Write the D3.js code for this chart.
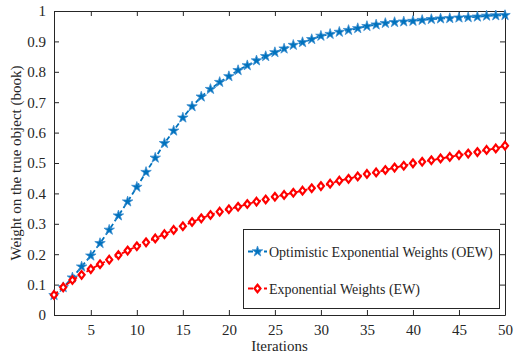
<!DOCTYPE html>
<html>
<head>
<meta charset="utf-8">
<script src="https://cdn.jsdelivr.net/npm/d3@7"></script>
<style>
  body { margin: 0; background: #fff; }
  svg text { font-family: "Liberation Serif", "Times New Roman", serif; fill: #262626; }
</style>
</head>
<body>
<div id="chart"></div>
<script>
// iterations 1..50
var iterations = d3.range(1, 51);

// Optimistic Exponential Weights (OEW)
var oew = [0.065, 0.091, 0.123, 0.159, 0.195, 0.236, 0.280, 0.327, 0.373, 0.421,
           0.470, 0.517, 0.565, 0.606, 0.649, 0.686, 0.718, 0.743, 0.766, 0.785,
           0.805, 0.821, 0.837, 0.851, 0.864, 0.876, 0.888, 0.897, 0.907, 0.918,
           0.924, 0.931, 0.937, 0.943, 0.950, 0.955, 0.960, 0.963, 0.965, 0.967,
           0.970, 0.973, 0.975, 0.976, 0.978, 0.979, 0.981, 0.984, 0.985, 0.986];

// Exponential Weights (EW)
var ew = [0.066, 0.091, 0.115, 0.132, 0.151, 0.167, 0.182, 0.197, 0.212, 0.226,
          0.239, 0.252, 0.266, 0.280, 0.292, 0.306, 0.318, 0.329, 0.340, 0.348,
          0.356, 0.365, 0.373, 0.380, 0.389, 0.395, 0.402, 0.409, 0.417, 0.424,
          0.432, 0.442, 0.448, 0.456, 0.464, 0.469, 0.477, 0.485, 0.491, 0.499,
          0.504, 0.509, 0.515, 0.520, 0.526, 0.531, 0.536, 0.543, 0.548, 0.557];

var xTicks = [5, 10, 15, 20, 25, 30, 35, 40, 45, 50];
var yTicks = [0, 0.1, 0.2, 0.3, 0.4, 0.5, 0.6, 0.7, 0.8, 0.9, 1];
var seriesNames = ["Optimistic Exponential Weights (OEW)", "Exponential Weights (EW)"];

var w = 515, h = 356;
var mLeft = 54, mRight = 505, mTop = 11, mBottom = 315;

var svg = d3.select("#chart").append("svg").attr("width", w).attr("height", h);

var x = d3.scaleLinear().domain([1, 50]).range([mLeft, mRight]);
var y = d3.scaleLinear().domain([0, 1]).range([mBottom, mTop]);

var axisColor = "#262626";

// axes, ticks inward on all four sides
var fmtY = function(d) { return d === 0 || d === 1 ? d : d3.format(".1f")(d); };

svg.append("g").attr("transform", "translate(0," + mBottom + ")")
  .call(d3.axisBottom(x).tickValues(xTicks).tickSizeInner(-5).tickSizeOuter(0).tickPadding(9))
  .call(g => g.selectAll("text").style("font-size", "15px"));
svg.append("g").attr("transform", "translate(0," + mTop + ")")
  .call(d3.axisTop(x).tickValues(xTicks).tickSizeInner(-5).tickSizeOuter(0).tickFormat(""));
svg.append("g").attr("transform", "translate(" + mLeft + ",0)")
  .call(d3.axisLeft(y).tickValues(yTicks).tickSizeInner(-5).tickSizeOuter(0).tickPadding(8).tickFormat(fmtY))
  .call(g => g.selectAll("text").style("font-size", "15px"));
svg.append("g").attr("transform", "translate(" + mRight + ",0)")
  .call(d3.axisRight(y).tickValues(yTicks).tickSizeInner(-5).tickSizeOuter(0).tickFormat(""));

svg.selectAll(".domain").attr("stroke", axisColor);
svg.selectAll(".tick line").attr("stroke", axisColor);
svg.selectAll(".tick text").attr("fill", axisColor);

// axis labels
svg.append("text")
  .attr("x", (mLeft + mRight) / 2).attr("y", 351)
  .attr("text-anchor", "middle").style("font-size", "15px")
  .text("Iterations");
svg.append("text")
  .attr("transform", "translate(21," + (mTop + mBottom) / 2 + ") rotate(-90)")
  .attr("text-anchor", "middle").style("font-size", "15px")
  .text("Weight on the true object (book)");

// series
var blue = "#0072BD", red = "#FF0000";
var star = d3.symbol().type(d3.symbolStar).size(34);

function diamond(cx, cy) {
  return "M" + cx + "," + (cy - 3.8) + "L" + (cx + 3) + "," + cy +
         "L" + cx + "," + (cy + 3.8) + "L" + (cx - 3) + "," + cy + "Z";
}

var line = d3.line().x((d, i) => x(iterations[i])).y(d => y(d));

svg.append("path").datum(oew).attr("d", line)
  .attr("fill", "none").attr("stroke", blue).attr("stroke-width", 1.8)
  .attr("stroke-dasharray", "5,3");
svg.append("g").selectAll("path").data(oew).enter().append("path")
  .attr("d", star)
  .attr("transform", (d, i) => "translate(" + x(iterations[i]) + "," + y(d) + ")")
  .attr("fill", blue).attr("stroke", "#3d8fd0").attr("stroke-width", 0.8);

svg.append("path").datum(ew).attr("d", line)
  .attr("fill", "none").attr("stroke", red).attr("stroke-width", 1.8)
  .attr("stroke-dasharray", "5,3");
svg.append("g").selectAll("path").data(ew).enter().append("path")
  .attr("d", (d, i) => diamond(x(iterations[i]), y(d)))
  .attr("fill", "#fff").attr("stroke", red).attr("stroke-width", 2.2);

// legend
var lg = svg.append("g");
lg.append("rect").attr("x", 243.5).attr("y", 229.5).attr("width", 256).attr("height", 79)
  .attr("fill", "#fff").attr("stroke", axisColor).attr("stroke-width", 1);

var legendY = [251.5, 288.5];
[blue, red].forEach(function(col, i) {
  lg.append("line").attr("x1", 248).attr("x2", 267).attr("y1", legendY[i]).attr("y2", legendY[i])
    .attr("stroke", col).attr("stroke-width", 1.8).attr("stroke-dasharray", "5,3");
  if (i === 0) {
    lg.append("path").attr("d", star).attr("transform", "translate(257.5," + legendY[i] + ")")
      .attr("fill", blue).attr("stroke", "#3d8fd0").attr("stroke-width", 0.8);
  } else {
    lg.append("path").attr("d", diamond(257.5, legendY[i]))
      .attr("fill", "#fff").attr("stroke", red).attr("stroke-width", 2.2);
  }
  lg.append("text").attr("x", 269).attr("y", legendY[i] + 5)
    .style("font-size", "14px").text(seriesNames[i]);
});
</script>
</body>
</html>
